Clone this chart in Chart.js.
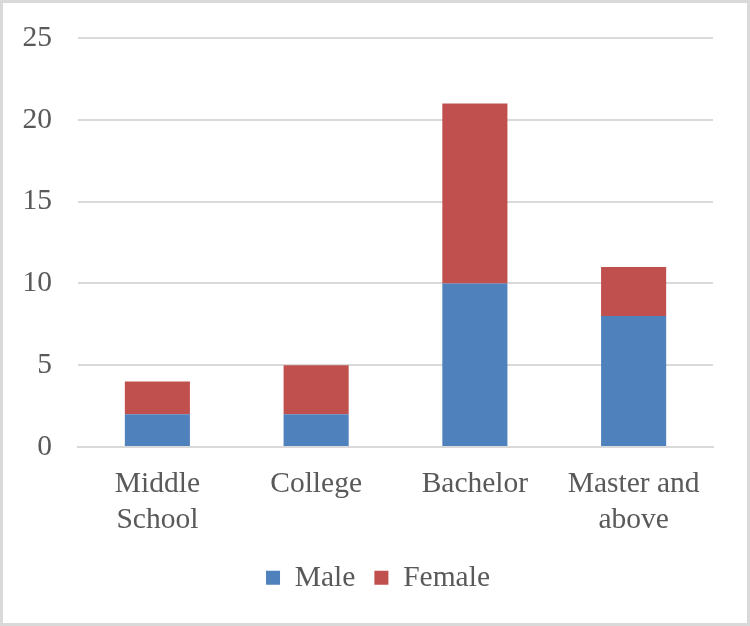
<!DOCTYPE html>
<html><head><meta charset="utf-8">
<script src="https://cdn.jsdelivr.net/npm/chart.js@4/dist/chart.umd.min.js"></script>
<style>html,body{margin:0;padding:0;background:#fff}#wrap{width:750px;height:626px;position:relative}</style>
</head><body><div id="wrap"><canvas id="c" width="750" height="626"></canvas></div>
<script>
const categories = [["Middle","School"], "College", "Bachelor", ["Master and","above"]];
const maleValues = [2, 2, 10, 8];
const femaleValues = [2, 3, 11, 3];
const yTicks = [0, 5, 10, 15, 20, 25];

const borderPlugin = {
  id: 'bg',
  beforeDraw(chart) {
    const ctx = chart.ctx;
    ctx.save();
    ctx.fillStyle = '#fff';
    ctx.fillRect(0, 0, chart.width, chart.height);
    ctx.strokeStyle = '#d9d9d9';
    ctx.lineWidth = 3;
    ctx.strokeRect(1.5, 1.5, chart.width - 3, chart.height - 3);
    ctx.restore();
  }
};

const font = {family: '"Liberation Serif", "Times New Roman", serif', size: 29.5, lineHeight: 1.22};
new Chart(document.getElementById('c'), {
  type: 'bar',
  data: {
    labels: categories,
    datasets: [
      {label: 'Male', data: maleValues, backgroundColor: '#4F81BD', barPercentage: 0.41, categoryPercentage: 1},
      {label: 'Female', data: femaleValues, backgroundColor: '#C0504D', barPercentage: 0.41, categoryPercentage: 1}
    ]
  },
  options: {
    responsive: false,
    animation: false,
    devicePixelRatio: 1,
    layout: {padding: {top: 38, right: 0, bottom: 23.5, left: 6}},
    plugins: {
      legend: {
        position: 'bottom',
        labels: {font: font, color: '#595959', boxWidth: 14, boxHeight: 14, padding: 19}
      },
      tooltip: {enabled: false}
    },
    scales: {
      x: {
        stacked: true,
        grid: {display: false},
        border: {display: true, color: '#d9d9d9', width: 2},
        ticks: {font: font, color: '#595959', padding: 11, maxRotation: 0},
        afterFit(scale) { scale.height = 97; }
      },
      y: {
        stacked: true,
        min: 0, max: 25,
        afterBuildTicks(scale) { scale.ticks = yTicks.map(v => ({value: v})); },
        afterFit(scale) { scale.width = 72; scale.paddingTop = 0; scale.paddingBottom = 0; },
        grid: {color: '#d9d9d9', lineWidth: 2, drawTicks: false},
        border: {display: false},
        ticks: {font: font, color: '#595959', padding: 26}
      },
      y2: {
        position: 'right',
        min: 0, max: 25,
        grid: {display: false, drawTicks: false},
        border: {display: false},
        ticks: {display: false},
        afterFit(scale) { scale.width = 37; scale.paddingTop = 0; scale.paddingBottom = 0; }
      }
    }
  },
  plugins: [borderPlugin]
});
</script></body></html>
